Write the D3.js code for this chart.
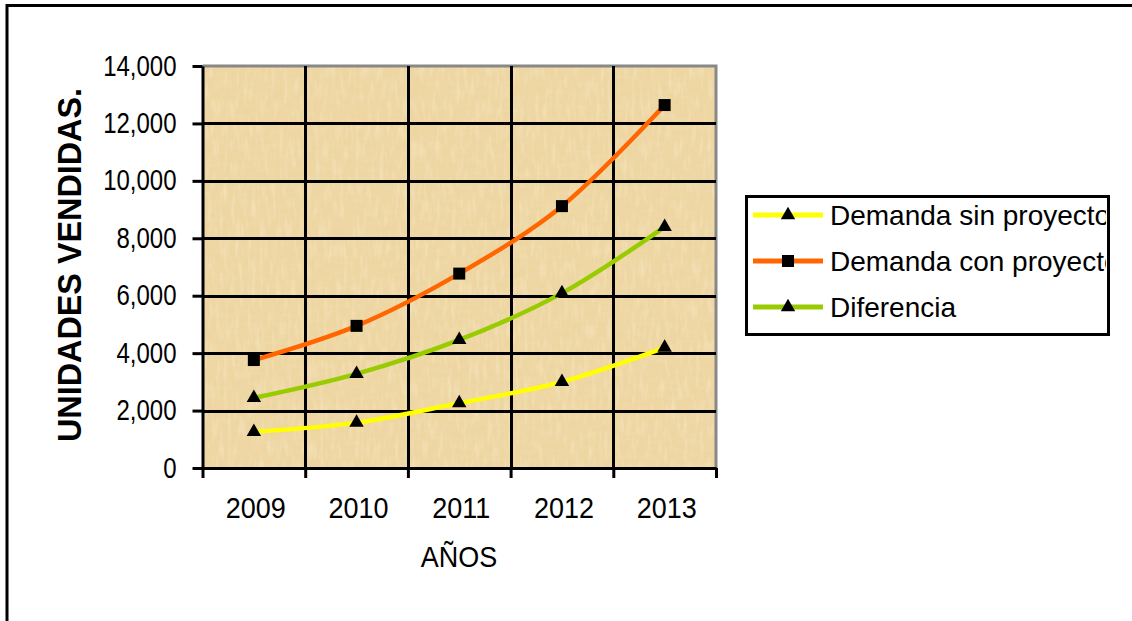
<!DOCTYPE html>
<html>
<head>
<meta charset="utf-8">
<script src="https://cdn.jsdelivr.net/npm/d3@7"></script>
<style>
  html, body { margin: 0; padding: 0; background: #fff; }
  svg { display: block; font-family: "Liberation Sans", Arial, sans-serif; }
</style>
</head>
<body>
<svg id="chart" width="1132" height="621"></svg>
<script>
// Units sold per year
const years = ["2009", "2010", "2011", "2012", "2013"];
const sinProyecto = [1260, 1580, 2260, 3000, 4190];
const conProyecto = [3760, 4950, 6770, 9120, 12640];
const diferencia = [2440, 3280, 4460, 6090, 8400];
const yTicks = [0, 2000, 4000, 6000, 8000, 10000, 12000, 14000];

const seriesNames = ["Demanda sin proyecto", "Demanda con proyecto", "Diferencia"];
const seriesColors = ["#FFFF00", "#FF6600", "#99CC00"];
const seriesMarkers = ["triangle", "square", "triangle"];
const seriesValues = [sinProyecto, conProyecto, diferencia];

const svg = d3.select("#chart");
const plotLeft = 202.5, plotRight = 716, plotTop = 66, plotBottom = 468;

// outer chart frame (runs off the page on the right and bottom)
svg.append("rect")
  .attr("x", 7).attr("y", 5.5).attr("width", 1300).attr("height", 800)
  .attr("fill", "none").attr("stroke", "#000").attr("stroke-width", 3);

// papyrus texture for the plot area
const defs = svg.append("defs");
const f = defs.append("filter").attr("id", "papyrus")
  .attr("x", 0).attr("y", 0).attr("width", "100%").attr("height", "100%");
f.append("feTurbulence").attr("type", "fractalNoise")
  .attr("baseFrequency", "0.06 0.22").attr("numOctaves", 3).attr("seed", 7).attr("result", "n");
f.append("feColorMatrix").attr("in", "n").attr("type", "matrix")
  .attr("values", "0 0 0 0 0.84  0 0 0 0 0.74  0 0 0 0 0.48  1.6 0 0 0 -0.72")
  .attr("result", "dark");
f.append("feTurbulence").attr("type", "fractalNoise")
  .attr("baseFrequency", "0.25 0.05").attr("numOctaves", 2).attr("seed", 11).attr("result", "n2");
f.append("feColorMatrix").attr("in", "n2").attr("type", "matrix")
  .attr("values", "0 0 0 0 0.98  0 0 0 0 0.89  0 0 0 0 0.70  1.6 0 0 0 -0.75")
  .attr("result", "light");
f.append("feMerge").call(m => {
  m.append("feMergeNode").attr("in", "dark");
  m.append("feMergeNode").attr("in", "light");
});

svg.append("rect")
  .attr("x", plotLeft).attr("y", plotTop).attr("width", plotRight - plotLeft).attr("height", plotBottom - plotTop)
  .attr("fill", "#EED6A2");
svg.append("rect")
  .attr("x", plotLeft).attr("y", plotTop).attr("width", plotRight - plotLeft).attr("height", plotBottom - plotTop)
  .attr("fill", "#000").attr("filter", "url(#papyrus)").attr("opacity", 0.5);

// scales
const x = d3.scaleBand().domain(years).range([plotLeft, plotRight]).padding(0);
const xEdge = d3.scaleLinear().domain([0, years.length]).range([plotLeft, plotRight]);
const y = d3.scaleLinear().domain([0, 14000]).range([plotBottom, plotTop]);

// plot border (grey top and right)
svg.append("path")
  .attr("d", `M${plotLeft},${plotTop}H${plotRight}V${plotBottom}`)
  .attr("fill", "none").attr("stroke", "#888").attr("stroke-width", 3);

// horizontal grid lines
svg.append("g")
  .attr("transform", `translate(${plotLeft},0)`)
  .call(d3.axisLeft(y).tickValues(yTicks.slice(1, -1)).tickSize(-(plotRight - plotLeft)).tickFormat(""))
  .call(g => g.select(".domain").remove())
  .call(g => g.selectAll("line").attr("stroke", "#000").attr("stroke-width", 3).attr("shape-rendering", "crispEdges"));

// vertical grid lines at category boundaries
svg.append("g")
  .attr("transform", `translate(0,${plotBottom})`)
  .call(d3.axisBottom(xEdge).tickValues(d3.range(1, years.length)).tickSize(-(plotBottom - plotTop)).tickFormat(""))
  .call(g => g.select(".domain").remove())
  .call(g => g.selectAll("line").attr("stroke", "#000").attr("stroke-width", 3).attr("shape-rendering", "crispEdges"));

// y axis
svg.append("g")
  .attr("transform", `translate(${plotLeft},0)`)
  .call(d3.axisLeft(y).tickValues(yTicks).tickSize(10).tickSizeOuter(0).tickFormat(d3.format(",")))
  .call(g => g.select(".domain").attr("stroke", "#000").attr("stroke-width", 3))
  .call(g => g.selectAll(".tick line").attr("stroke", "#000").attr("stroke-width", 3))
  .call(g => g.selectAll(".tick text")
    .attr("x", null).attr("dy", null)
    .attr("transform", "translate(-26,9) scale(1,1.26)")
    .attr("text-anchor", "end")
    .attr("fill", "#000").attr("font-size", 24));

// x axis line and boundary ticks
svg.append("g")
  .attr("transform", `translate(0,${plotBottom})`)
  .call(d3.axisBottom(xEdge).tickValues(d3.range(0, years.length + 1)).tickSize(10).tickSizeOuter(0).tickFormat(""))
  .call(g => g.select(".domain").attr("stroke", "#000").attr("stroke-width", 3))
  .call(g => g.selectAll(".tick line").attr("stroke", "#000").attr("stroke-width", 3));

// x category labels
svg.append("g")
  .attr("transform", `translate(0,${plotBottom})`)
  .call(d3.axisBottom(x).tickSize(0))
  .call(g => g.select(".domain").remove())
  .call(g => g.selectAll(".tick text")
    .attr("y", null).attr("dy", null)
    .attr("transform", "translate(2,50) scale(1,1.12)")
    .attr("fill", "#000").attr("font-size", 27));

// axis titles
svg.append("text")
  .attr("transform", "translate(459,567) scale(1,1.12)")
  .attr("text-anchor", "middle").attr("font-size", 27).attr("fill", "#000")
  .text("AÑOS");
svg.append("text")
  .attr("transform", "translate(81,265) rotate(-90)")
  .attr("text-anchor", "middle").attr("font-size", 34).attr("font-weight", "bold")
  .attr("textLength", 354).attr("lengthAdjust", "spacingAndGlyphs")
  .attr("fill", "#000")
  .text("UNIDADES VENDIDAS.");

// series lines
const line = d3.line()
  .x((d, i) => x(years[i]) + x.bandwidth() / 2)
  .y(d => y(d))
  .curve(d3.curveCatmullRom.alpha(0.5));

const symbolFor = k => k === "square" ? d3.symbol(d3.symbolSquare, 144) : d3.symbol(d3.symbolTriangle, 90);

seriesValues.forEach((vals, s) => {
  svg.append("path")
    .attr("d", line(vals))
    .attr("fill", "none").attr("stroke", seriesColors[s]).attr("stroke-width", 4.5);
});
seriesValues.forEach((vals, s) => {
  svg.append("g").selectAll("path")
    .data(vals).join("path")
    .attr("transform", (d, i) => `translate(${x(years[i]) + x.bandwidth() / 2},${y(d)})`)
    .attr("d", symbolFor(seriesMarkers[s])())
    .attr("fill", "#000");
});

// legend
const lg = svg.append("g");
defs.append("clipPath").attr("id", "legclip")
  .append("rect").attr("x", 745).attr("y", 195).attr("width", 361).attr("height", 140);
lg.append("rect")
  .attr("x", 746.5).attr("y", 196.5).attr("width", 362).attr("height", 138)
  .attr("fill", "#fff");
const rows = [215, 261, 307];
seriesNames.forEach((name, s) => {
  const ry = rows[s];
  lg.append("line")
    .attr("x1", 753).attr("x2", 823).attr("y1", ry).attr("y2", ry)
    .attr("stroke", seriesColors[s]).attr("stroke-width", 5);
  lg.append("path")
    .attr("transform", `translate(788,${ry})`)
    .attr("d", symbolFor(seriesMarkers[s])())
    .attr("fill", "#000");
  lg.append("text")
    .attr("x", 830).attr("y", ry + 10)
    .attr("font-size", 28).attr("fill", "#000")
    .attr("clip-path", "url(#legclip)")
    .text(name);
});
lg.append("rect")
  .attr("x", 746.5).attr("y", 196.5).attr("width", 362).attr("height", 138)
  .attr("fill", "none").attr("stroke", "#000").attr("stroke-width", 3);
</script>
</body>
</html>
